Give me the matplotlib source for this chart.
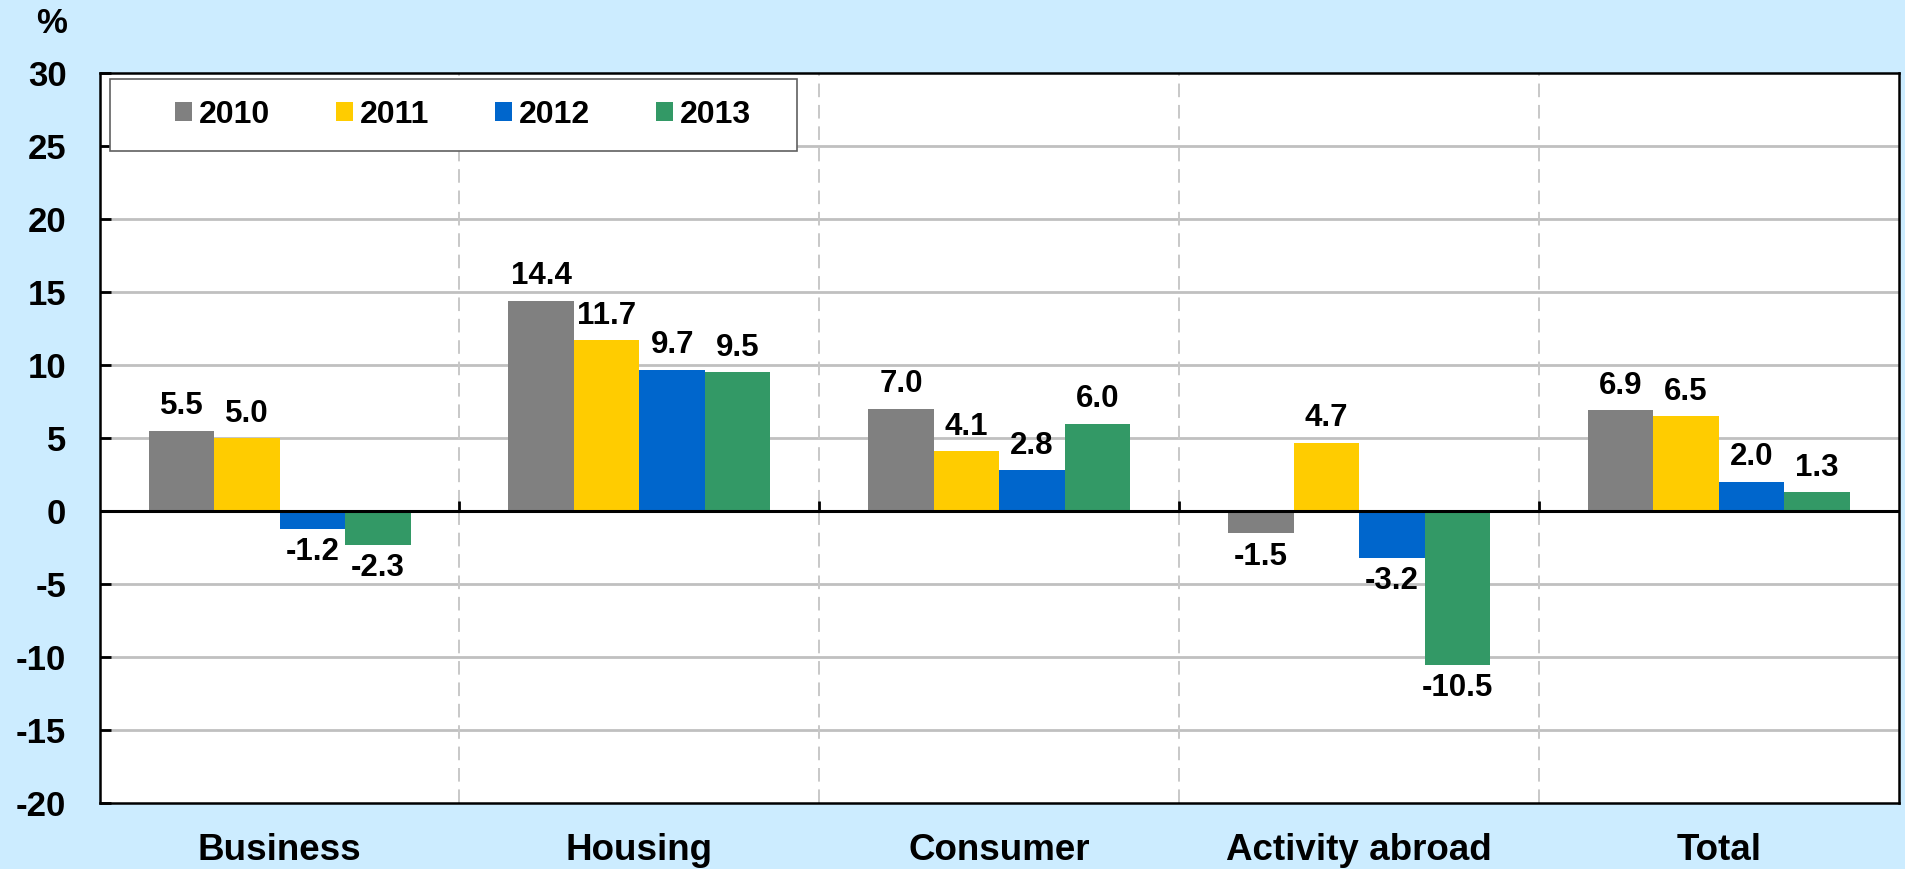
import matplotlib

matplotlib.use("Agg")
import matplotlib.pyplot as plt
from matplotlib.patches import Rectangle
import numpy as np

# data
categories = ["Business", "Housing", "Consumer", "Activity abroad", "Total"]
years = ["2010", "2011", "2012", "2013"]
v2010 = [5.5, 14.4, 7.0, -1.5, 6.9]
v2011 = [5.0, 11.7, 4.1, 4.7, 6.5]
v2012 = [-1.2, 9.7, 2.8, -3.2, 2.0]
v2013 = [-2.3, 9.5, 6.0, -10.5, 1.3]
yticks = [-20, -15, -10, -5, 0, 5, 10, 15, 20, 25, 30]

colors = ["#808080", "#FFCC00", "#0066CC", "#339966"]
BG = "#CCECFF"

plt.rcParams["font.family"] = ["Liberation Sans", "DejaVu Sans"]
plt.rcParams["font.weight"] = "bold"

fig = plt.figure(figsize=(19.06, 8.69), dpi=100, facecolor=BG)
ax = fig.add_axes([0.0523, 0.0754, 0.9439, 0.8406])
ax.set_facecolor("white")

x = np.arange(len(categories))
w = 0.182
series = [v2010, v2011, v2012, v2013]
for i, (vals, c, yr) in enumerate(zip(series, colors, years)):
    xs = x + (i - 1.5) * w
    ax.bar(xs, vals, w, color=c, label=yr, zorder=3)
    for xx, v in zip(xs, vals):
        off = 7 if v >= 0 else -6
        ax.annotate(f"{v:.1f}", (xx, v), xytext=(0, off), textcoords="offset points",
                    ha="center", va="bottom" if v >= 0 else "top",
                    fontsize=22.5, fontweight="bold", zorder=4)

ax.set_xlim(-0.5, len(categories) - 0.5)
ax.set_ylim(-20, 30)
ax.set_yticks(yticks)
ax.set_yticklabels([str(t) for t in yticks], fontsize=25, fontweight="bold")
ax.tick_params(axis="y", direction="in", length=8, width=2, pad=24)
ax.set_xticks(x)
ax.set_xticklabels(categories, fontsize=26.5, fontweight="bold")
ax.tick_params(axis="x", length=0, pad=21)

# grid: solid horizontal, dashed vertical group separators
for t in yticks:
    if t not in (0, -20, 30):
        ax.axhline(t, color="#C0C0C0", lw=2, zorder=1)
bounds = x[:-1] + 0.5
for b in bounds:
    ax.axvline(b, color="#C8C8C8", lw=1.4, ls=(0, (7, 4)), zorder=1)
ax.axhline(0, color="black", lw=2.2, zorder=5)
ax.vlines(bounds, 0, 0.7, color="black", lw=2, zorder=5)

for s in ax.spines.values():
    s.set_linewidth(1.8)
    s.set_color("black")

fig.text(0.0268, 0.9724, "%", fontsize=25, fontweight="bold", ha="center", va="center")

# legend frame drawn separately, entries placed inside it
ax.add_patch(Rectangle((0.0057, 0.893), 0.3818, 0.0987, transform=ax.transAxes,
                       facecolor="white", edgecolor="#606060", lw=1.2, zorder=6))
leg = ax.legend(loc="center left", bbox_to_anchor=(0.0419, 0.9423), ncol=4, fontsize=23,
                frameon=False, handlelength=0.53, handleheight=0.53, handletextpad=0.22,
                columnspacing=2.06, borderpad=0, borderaxespad=0)
leg.set_zorder(7)
for t in leg.get_texts():
    t.set_fontweight("bold")

fig.savefig("out.png", dpi=100, facecolor=BG)
